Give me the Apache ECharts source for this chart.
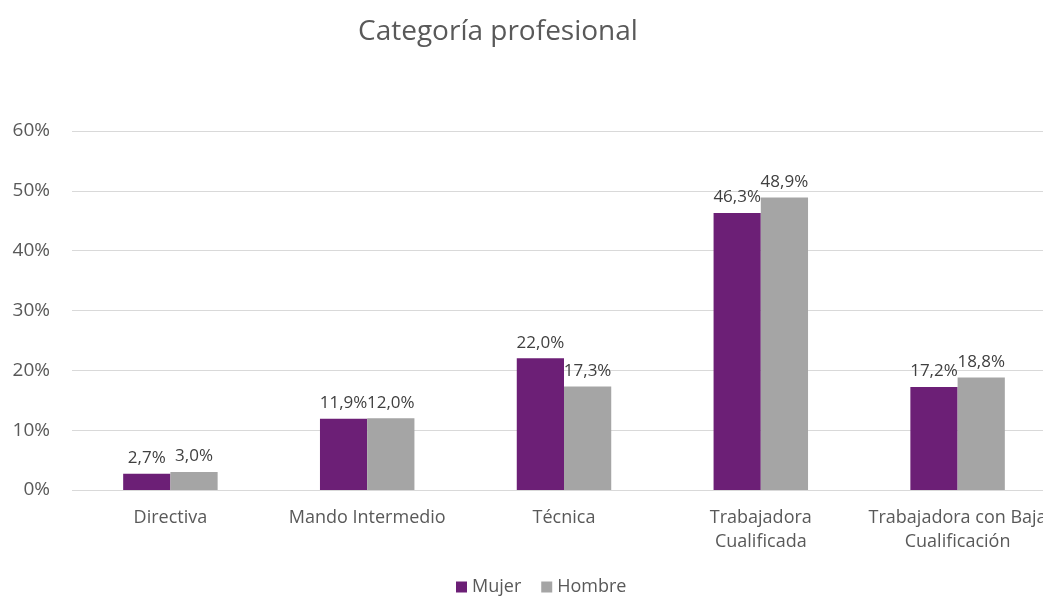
<!DOCTYPE html>
<html>
<head>
<meta charset="utf-8"/>
<title>Categoría profesional</title>
<script src="https://cdn.jsdelivr.net/npm/echarts@6/dist/echarts.min.js"></script>
<style>
  html, body { margin: 0; padding: 0; background: #fff; }
</style>
</head>
<body>
<div id="chart" style="width:1043px;height:597px;"></div>
<script type="text/javascript">
// chart data
var categories = ['Directiva', 'Mando Intermedio', 'Técnica', 'Trabajadora\nCualificada', 'Trabajadora con Baja\nCualificación'];
var mujer = [2.7, 11.9, 22.0, 46.3, 17.2];
var hombre = [3.0, 12.0, 17.3, 48.9, 18.8];
var yTicks = [0, 10, 20, 30, 40, 50, 60];

var font = 'Open Sans';

function pct(v) {
    return v.toFixed(1).replace('.', ',') + '%';
}

var chart = echarts.init(document.getElementById('chart'));
var option = {
    animation: false,
    title: {
        text: 'Categoría profesional',
        left: 353,
        top: 13,
        textStyle: { fontFamily: font, fontSize: 28, fontWeight: 'normal', color: '#595959' }
    },
    legend: {
        bottom: -4,
        left: 451,
        itemWidth: 11,
        itemHeight: 11,
        itemGap: 20,
        icon: 'rect',
        textStyle: { fontFamily: font, fontSize: 18, color: '#595959' },
        data: ['Mujer', 'Hombre']
    },
    grid: {
        left: 72,
        right: -13,
        top: 131,
        bottom: 107,
        outerBoundsMode: 'none'
    },
    xAxis: {
        type: 'category',
        data: categories,
        axisTick: { show: false },
        axisLine: { show: false },
        axisLabel: {
            interval: 0,
            margin: 16,
            fontFamily: font,
            fontSize: 18,
            lineHeight: 24,
            color: '#595959'
        }
    },
    yAxis: {
        type: 'value',
        min: yTicks[0],
        max: yTicks[yTicks.length - 1],
        interval: 10,
        axisLine: { show: false },
        axisTick: { show: false },
        splitLine: { lineStyle: { color: '#d9d9d9', width: 1 } },
        axisLabel: {
            margin: 22,
            fontFamily: font,
            fontSize: 19,
            color: '#595959',
            formatter: '{value}%'
        }
    },
    series: [{
        name: 'Mujer',
        type: 'bar',
        data: mujer,
        barGap: '0%',
        barCategoryGap: '52%',
        itemStyle: { color: '#6c1f76' },
        labelLayout: { moveOverlap: 'shiftX' },
        label: {
            show: true,
            position: 'top',
            distance: 7,
            fontFamily: font,
            fontSize: 17,
            color: '#404040',
            formatter: function (p) { return pct(p.value); }
        }
    }, {
        name: 'Hombre',
        type: 'bar',
        data: hombre,
        itemStyle: { color: '#a5a5a5' },
        labelLayout: { moveOverlap: 'shiftX' },
        label: {
            show: true,
            position: 'top',
            distance: 7,
            fontFamily: font,
            fontSize: 17,
            color: '#404040',
            formatter: function (p) { return pct(p.value); }
        }
    }]
};
chart.setOption(option);
</script>
</body>
</html>
